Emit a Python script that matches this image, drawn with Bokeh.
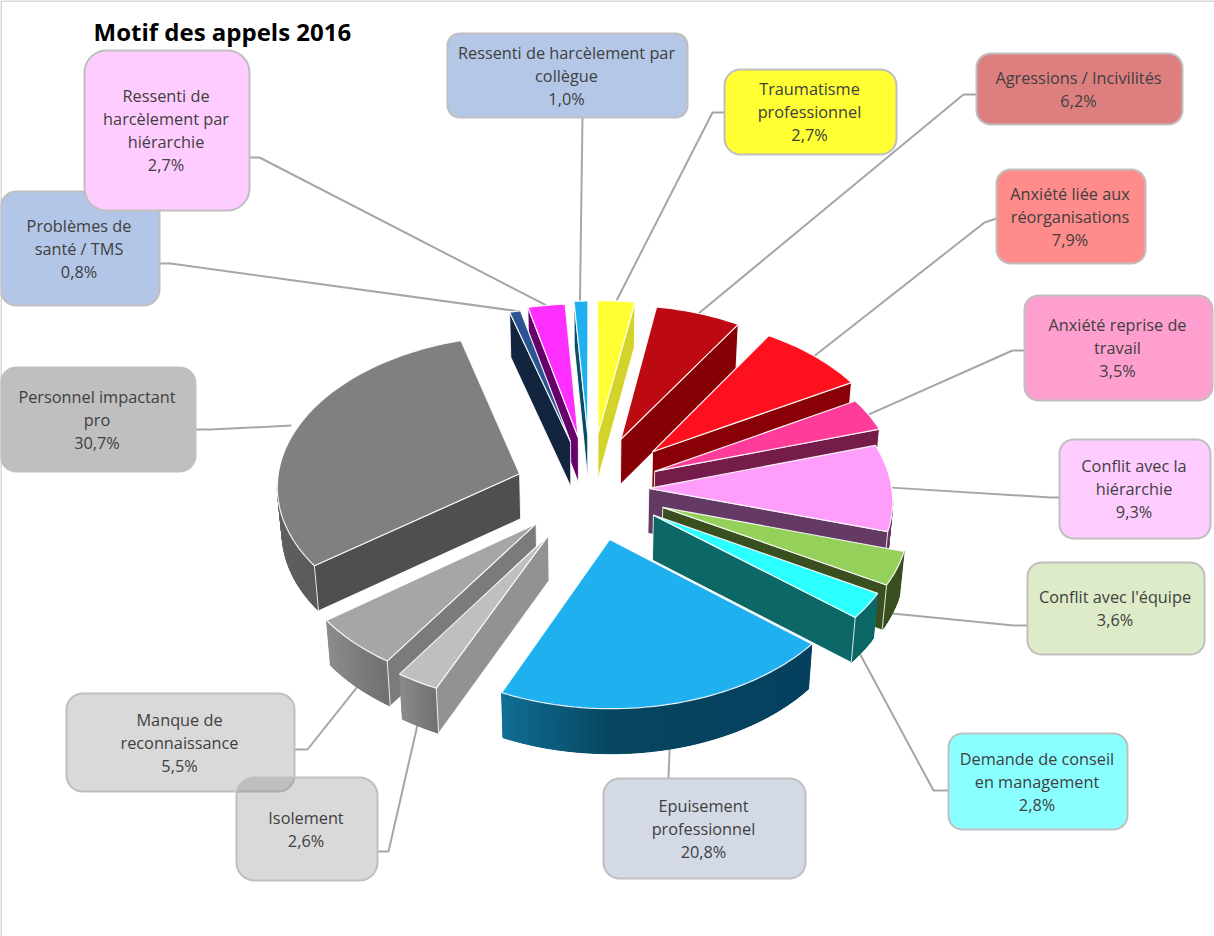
import math
import numpy as np
from bokeh.plotting import figure
from bokeh.models import Range1d
from bokeh.core.properties import value
from bokeh.embed import file_html
from bokeh.resources import INLINE

# ---- data -----------------------------------------------------------------
categories = [["Traumatisme", "professionnel"],
              ["Agressions / Incivilités"],
              ["Anxiété liée aux", "réorganisations"],
              ["Anxiété reprise de", "travail"],
              ["Conflit avec la", "hiérarchie"],
              ["Conflit avec l'équipe"],
              ["Demande de conseil", "en management"],
              ["Epuisement", "professionnel"],
              ["Isolement"],
              ["Manque de", "reconnaissance"],
              ["Personnel impactant", "pro"],
              ["Problèmes de", "santé / TMS"],
              ["Ressenti de", "harcèlement par", "hiérarchie"],
              ["Ressenti de harcèlement par", "collègue"]]
values = [2.7, 6.2, 7.9, 3.5, 9.3, 3.6, 2.8, 20.8, 2.6, 5.5, 30.7, 0.8, 2.7, 1.0]
explode = [0.375, 0.36, 0.36, 0.29, 0.24, 0.32, 0.31, 0.34, 0.35, 0.32, 0.31, 0.33, 0.35, 0.37]

# ---- styles ----------------------------------------------------------------
top_col = ["#FFFF33", "#BD0912", "#FF101E", "#FF3C99", "#FF9DFB", "#94D05A", "#2CFFFF",
           "#1FB1EF", "#BFBFBF", "#A6A6A6", "#808080", "#2B5592", "#FF2FFF", "#1FB1EF"]
side_col = ["#D4D32A", "#870006", "#890007", "#751C4A", "#643A64", "#3A4F20", "#0C6767",
            "#05415F", "#929292", "#7B7B7B", "#4F4F4F", "#13253E", "#66006A", "#0B4C66"]
wall_col = [["#D4D32A"], ["#870006"], ["#890007"], ["#751C4A"], ["#643A64"], ["#3A4F20"], ["#0C6767"],
            ["#05415F", "#05425F", "#06465F", "#106E95"], ["#707070", "#8A8A8A"], ["#707070", "#8C8C8C"],
            ["#5B5B5B", "#707070"], ["#13253E"], ["#66006A"], ["#0B4C66"]]
box_fill = ["#FFFF33", "#DE7F7F", "#FF8B8B", "#FF9FCF", "#FFCCFF", "#DDEBC8", "#8AFFFF",
            "#D3DAE6", "#828282", "#828282", "#BFBFBF", "#B3C6E7", "#FFCCFF", "#B4C7E7"]
box_alpha = [1, 1, 1, 1, 1, 1, 1, 1, 0.3, 0.3, 1, 1, 1, 1]

# ---- layout (pixels of the page) -------------------------------------------
boxes = [(724, 69, 896, 154), (976, 53, 1182, 124), (996, 169, 1145, 263), (1024, 295, 1212, 400),
         (1059, 439, 1210, 538), (1027, 562, 1204, 654), (948, 733, 1127, 829), (603, 778, 805, 878),
         (236, 777, 377, 880), (66, 693, 294, 791), (0, 367, 195, 471), (0, 191, 159, 305),
         (84, 50, 249, 210), (447, 33, 687, 117)]
radius = [16, 14, 14, 14, 14, 14, 14, 16, 18, 16, 16, 16, 22, 12]
leader_start = [[(724, 112), (712, 112)], [(976, 94), (963, 94)], [(996, 218), (984, 222)],
                [(1024, 350), (1012, 350)], [(1059, 497), (1050, 497)], [(1027, 625), (1013, 625)],
                [(948, 790), (933, 790)], [(668, 778)], [(377, 851), (388, 851)],
                [(294, 749), (307, 749)], [(195, 429), (210, 429)], [(159, 263), (170, 263)],
                [(249, 157), (259, 157)], [(582, 117)]]
leader_tweak = [(0, 0), (0, 0), (0, 0), (0, 0), (0, 0), (0, 0), (-5, 0), (-1, 0),
                (-2, -4), (2, -3), (-6, -2), (5, 0), (0, 0), (-1, 0)]
draw_order = [13, 0, 12, 1, 11, 2, 3, 10, 4, 5, 6, 9, 8, 7]
CX, CY, SX, SY, K, H, CONV = 590.0, 488.0, 243.0, 150.0, 0.07, 45.0, 0.015
LH = 23.0


def proj(X, Z, low=False):
    w = 1 + K * Z
    sx = CX + SX * X / w
    sy = CY - SY * Z / w
    if low:
        sx = CX + (sx - CX) * (1 - CONV)
        sy = sy + H
    return sx, sy


def hex2rgb(c):
    return np.array([int(c[i:i + 2], 16) for i in (1, 3, 5)], float)


def ramp(cols, t):
    if len(cols) == 1:
        return cols[0]
    pos = t * (len(cols) - 1)
    i = min(int(pos), len(cols) - 2)
    f = pos - i
    rgb = hex2rgb(cols[i]) * (1 - f) + hex2rgb(cols[i + 1]) * f
    return "#%02x%02x%02x" % tuple(int(round(v)) for v in rgb)


def rounded(x0, y0, x1, y1, r, n=10):
    xs, ys = [], []
    for cx, cy, a0 in [(x1 - r, y0 + r, -90), (x1 - r, y1 - r, 0), (x0 + r, y1 - r, 90), (x0 + r, y0 + r, 180)]:
        for a in np.linspace(a0, a0 + 90, n):
            xs.append(cx + r * math.cos(math.radians(a)))
            ys.append(cy + r * math.sin(math.radians(a)))
    return xs, ys


total = sum(values)
edges = np.concatenate([[0.0], np.cumsum(values)]) / total * 360.0

p = figure(width=1214, height=936, x_range=Range1d(0, 1214), y_range=Range1d(936, 0),
           output_backend="svg", toolbar_location=None, min_border=0,
           background_fill_color="white", border_fill_color="white", outline_line_color=None)
p.axis.visible = False
p.grid.visible = False

# page frame
p.multi_line([[0.5, 0.5, 1214]], [[936, 0.5, 0.5]], line_color="#D9D9D9", line_width=2)


def geom(i):
    a0, a1 = edges[i], edges[i + 1]
    m = math.radians((a0 + a1) / 2)
    ex, ez = explode[i] * math.sin(m), explode[i] * math.cos(m)
    th = np.radians(np.linspace(a0, a1, max(6, int((a1 - a0) / 1.5) + 2)))
    return a0, a1, ex, ez, th


# leader lines
lx, ly = [], []
for i in range(len(values)):
    a0, a1, ex, ez, th = geom(i)
    m = math.radians((a0 + a1) / 2)
    X, Z = ex + math.sin(m), ez + math.cos(m)
    ax, ay = proj(X, Z, low=math.cos(m) < -0.3)
    ax += leader_tweak[i][0]
    ay += leader_tweak[i][1]
    lx.append([q[0] for q in leader_start[i]] + [ax])
    ly.append([q[1] for q in leader_start[i]] + [ay])
p.multi_line(lx, ly, line_color="#A6A6A6", line_width=2)

# slices, back to front
for i in draw_order:
    a0, a1, ex, ez, th = geom(i)
    Xs, Zs = ex + np.sin(th), ez + np.cos(th)
    top = [proj(a, b) for a, b in zip(Xs, Zs)]
    low = [proj(a, b, True) for a, b in zip(Xs, Zs)]
    apex_t, apex_b = proj(ex, ez), proj(ex, ez, True)
    # outer wall: one underlay, then the shaded strips
    wx, wy, wc = [], [], []
    up_x, up_y, dn_x, dn_y = [], [], [], []
    for j in range(len(th) - 1):
        if top[j + 1][0] < top[j][0]:
            wx.append([top[j][0], top[j + 1][0], low[j + 1][0], low[j][0]])
            wy.append([top[j][1], top[j + 1][1], low[j + 1][1], low[j][1]])
            wc.append(ramp(wall_col[i], (j + 0.5) / (len(th) - 1)))
            up_x += [top[j][0], top[j + 1][0]]
            up_y += [top[j][1], top[j + 1][1]]
            dn_x += [low[j][0], low[j + 1][0]]
            dn_y += [low[j][1], low[j + 1][1]]
    if wx:
        p.patch(up_x + dn_x[::-1], up_y + dn_y[::-1], fill_color=wc[len(wc) // 2], line_color=None)
        p.patches(wx, wy, fill_color=wc, line_color=wc, line_width=1.0)
    # radial faces that look to the viewer
    for edge_angle, idx, shows in ((a0, 0, math.sin(math.radians(a0)) < 0),
                                   (a1, -1, math.sin(math.radians(a1)) > 0)):
        if shows:
            qx = [apex_t[0], top[idx][0], low[idx][0], apex_b[0]]
            qy = [apex_t[1], top[idx][1], low[idx][1], apex_b[1]]
            p.patch(qx, qy, fill_color=side_col[i], line_color="#FFFFFF", line_width=1.0, line_alpha=0.85)
    # top
    tx = [apex_t[0]] + [q[0] for q in top]
    ty = [apex_t[1]] + [q[1] for q in top]
    p.patch(tx, ty, fill_color=top_col[i], line_color="#FFFFFF", line_width=1.2, line_alpha=0.9)

# label boxes: the two translucent ones are last among those that overlap
box_order = [11, 12, 13, 0, 1, 2, 3, 4, 5, 6, 7, 10, 9, 8]
for i in box_order:
    x0, y0, x1, y1 = boxes[i]
    bx, by = rounded(x0, y0, x1, y1, radius[i])
    p.patch(bx, by, fill_color=box_fill[i], fill_alpha=box_alpha[i], line_color="#BFBFBF", line_width=2)

tx, ty, tt = [], [], []
for i, lines in enumerate(categories):
    x0, y0, x1, y1 = boxes[i]
    rows = lines + [("%.1f%%" % values[i]).replace(".", ",")]
    for k, row in enumerate(rows):
        tx.append((x0 + x1) / 2 - 1)
        ty.append((y0 + y1) / 2 + (k - (len(rows) - 1) / 2) * LH)
        tt.append(row)
p.text(tx, ty, text=tt, text_align="center", text_baseline="middle", text_color="#404040",
       text_font=value("Open Sans"), text_font_size="16.3px")
p.text([93], [31], text=["Motif des appels 2016"], text_align="left", text_baseline="middle",
       text_color="#000000", text_font=value("Open Sans"), text_font_style="bold", text_font_size="24px")

open("out.html", "w").write(file_html(p, INLINE))
